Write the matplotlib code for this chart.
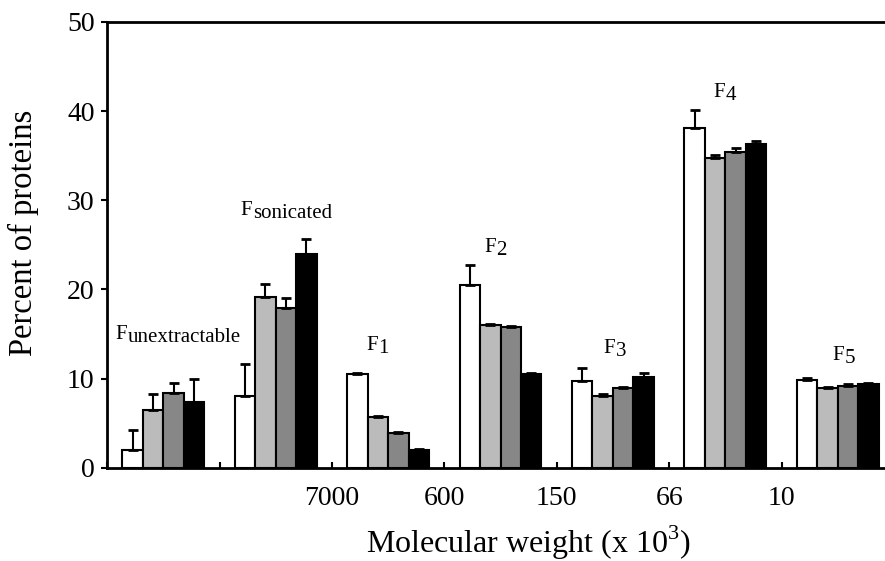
import numpy as np
import matplotlib
matplotlib.use('Agg')
import matplotlib.pyplot as plt

plt.rcParams['font.family'] = ['Liberation Serif', 'DejaVu Serif']
plt.rcParams['mathtext.fontset'] = 'custom'
plt.rcParams['mathtext.rm'] = 'Liberation Serif'

# fractions, left to right
fractions = ['unextractable', 'sonicated', '1', '2', '3', '4', '5']

# four samples per fraction (white, light gray, dark gray, black)
s_white = [2.0, 8.1, 10.5, 20.5, 9.7, 38.1, 9.9]
s_light = [6.5, 19.2, 5.7, 16.0, 8.1, 34.7, 8.9]
s_mid = [8.4, 17.9, 3.9, 15.8, 8.9, 35.4, 9.2]
s_black = [7.4, 24.0, 2.0, 10.5, 10.2, 36.3, 9.4]

# upper error (sd)
e_white = [2.3, 3.6, 0.15, 2.3, 1.5, 2.0, 0.15]
e_light = [1.8, 1.4, 0.15, 0.15, 0.15, 0.4, 0.15]
e_mid = [1.1, 1.2, 0.15, 0.15, 0.15, 0.5, 0.15]
e_black = [2.6, 1.7, 0.15, 0.15, 0.4, 0.4, 0.15]

tick_labels = ['', '', '7000', '600', '150', '66', '10']

# where "F" ends / subscript starts, and the baseline
label_x = [-0.322, 0.789, 1.909, 2.958, 4.016, 5.0, 6.051]
label_y = [14.46, 28.36, 13.23, 24.22, 12.89, 41.59, 12.11]

fig = plt.figure(figsize=(8.85, 5.61), dpi=100)
ax = fig.add_axes([0.121, 0.166, 0.879, 0.795])

x = np.arange(len(fractions))
w = 0.182
series = [(s_white, e_white, 'white'), (s_light, e_light, '#bbbbbb'),
          (s_mid, e_mid, '#878787'), (s_black, e_black, 'black')]
for i, (vals, errs, col) in enumerate(series):
    pos = x + (i - 1.5) * w
    ax.bar(pos, vals, width=w, color=col, edgecolor='black', linewidth=1.5, zorder=2)
    ax.errorbar(pos, vals, yerr=[np.zeros(len(vals)), errs], fmt='none',
                ecolor='black', elinewidth=1.5, capsize=3.5, capthick=2, zorder=3)

for name, lx, ly in zip(fractions, label_x, label_y):
    ax.text(lx, ly, 'F', ha='right', va='baseline', fontsize=15)
    ax.annotate(name, (lx, ly), xytext=(0.5, -2), textcoords='offset points',
                ha='left', va='baseline', fontsize=15)

ax.set_xlim(-0.5, 6.42)
ax.set_ylim(0, 50)
ax.set_yticks([0, 10, 20, 30, 40, 50])
ax.set_xticks(np.arange(len(fractions)) - 0.5)
ax.set_xticklabels(tick_labels)
ax.tick_params(axis='y', direction='out', length=4, width=1.5, labelsize=20, pad=5)
ax.tick_params(axis='x', direction='in', length=4, width=1.5, labelsize=20, pad=13)
for s in ['left', 'bottom', 'top']:
    ax.spines[s].set_linewidth(2)
ax.spines['right'].set_visible(False)

fig.text(23 / 885, 1 - 233 / 561, 'Percent of proteins', rotation=90,
         ha='center', va='center', fontsize=23.5)
fig.text(528 / 885, 1 - 553 / 561, r'Molecular weight (x 10$^{3}$)',
         ha='center', va='baseline', fontsize=23)

fig.savefig('out.png', dpi=100)
